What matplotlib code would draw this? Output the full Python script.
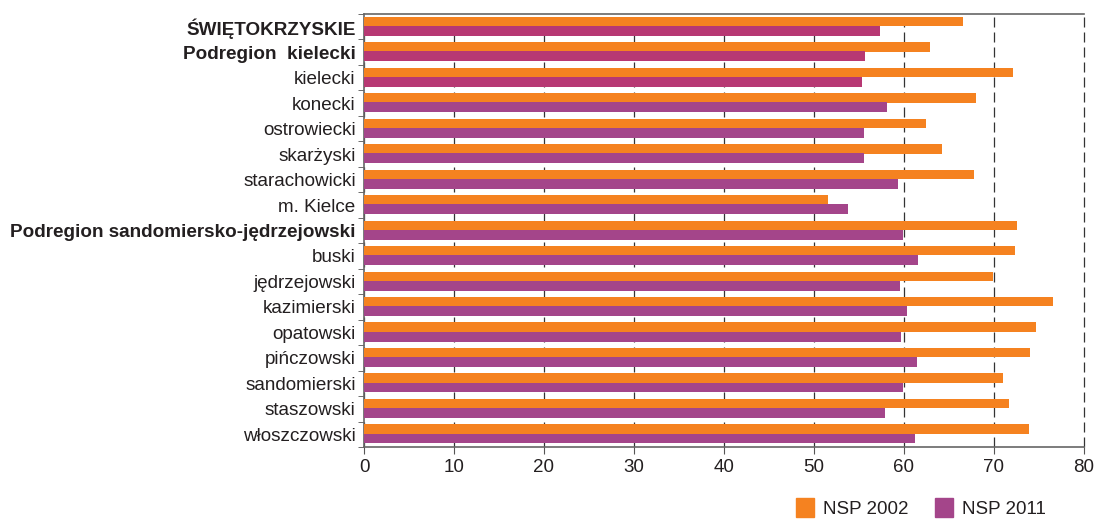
import numpy as np
import matplotlib.pyplot as plt
from matplotlib.patches import Patch

plt.rcParams['font.family'] = ['Liberation Sans', 'DejaVu Sans']

regions = ['ŚWIĘTOKRZYSKIE', 'Podregion  kielecki', 'kielecki', 'konecki',
           'ostrowiecki', 'skarżyski', 'starachowicki', 'm. Kielce',
           'Podregion sandomiersko-jędrzejowski', 'buski', 'jędrzejowski',
           'kazimierski', 'opatowski', 'pińczowski', 'sandomierski',
           'staszowski', 'włoszczowski']
bold_labels = ['ŚWIĘTOKRZYSKIE', 'Podregion  kielecki',
               'Podregion sandomiersko-jędrzejowski']
nsp_2002 = [66.6, 62.9, 72.1, 68.0, 62.4, 64.2, 67.8, 51.6, 72.5,
            72.3, 69.9, 76.6, 74.7, 74.0, 71.0, 71.7, 73.9]
nsp_2011 = [57.3, 55.7, 55.3, 58.1, 55.6, 55.6, 59.3, 53.8, 59.9,
            61.5, 59.5, 60.3, 59.7, 61.4, 59.9, 57.9, 61.2]
x_ticks = [0, 10, 20, 30, 40, 50, 60, 70, 80]

orange = '#F58220'
purple = '#A4458A'
pink = '#B73873'
text_col = '#231F20'

fig = plt.figure(figsize=(10.99, 5.19), dpi=100)
ax = fig.add_axes([364 / 1099, 1 - 447 / 519, 720 / 1099, 433 / 519])

y = np.arange(len(regions))
h = 0.37
purple_cols = [pink if i < 3 else purple for i in range(len(regions))]
ax.barh(y - h / 2 - 0.02, nsp_2002, height=h, color=orange, zorder=3)
ax.barh(y + h / 2 - 0.02, nsp_2011, height=h + 0.02, color=purple_cols, zorder=3)

ax.set_xlim(0, 80)
ax.set_ylim(len(regions) - 0.5, -0.5)
ax.set_xticks(x_ticks)
ax.set_xticklabels([str(t) for t in x_ticks], fontsize=13.5, color=text_col)
ax.set_yticks(y)
ax.set_yticklabels(regions, fontsize=13.6, color=text_col)
for lab in ax.get_yticklabels():
    if lab.get_text() in bold_labels:
        lab.set_fontweight('bold')
ax.set_yticks(np.arange(len(regions) + 1) - 0.5, minor=True)
ax.tick_params(axis='y', which='major', length=0, pad=6)
ax.tick_params(axis='y', which='minor', length=4, color='#555555', direction='out')
ax.tick_params(axis='x', length=5, color='#555555', direction='out', pad=4)

ax.grid(axis='x', color='#333333', linestyle=(0, (8, 4)), linewidth=0.9, zorder=1)
ax.grid(axis='y', visible=False)
for line in ax.get_xgridlines():
    line.set_clip_on(False)

for s in ['left', 'bottom', 'top']:
    ax.spines[s].set_color('#666666')
    ax.spines[s].set_linewidth(1.2)
ax.spines['right'].set_visible(False)

handles = [Patch(color=orange, label='NSP 2002'), Patch(color=purple, label='NSP 2011')]
fig.legend(handles=handles, loc='center', bbox_to_anchor=(921 / 1099, 1 - 508 / 519),
           ncol=2, frameon=False, fontsize=13.5, handlelength=0.95, handleheight=1.15,
           handletextpad=0.5, columnspacing=1.4, labelcolor=text_col)

fig.savefig('out.png', dpi=100)
